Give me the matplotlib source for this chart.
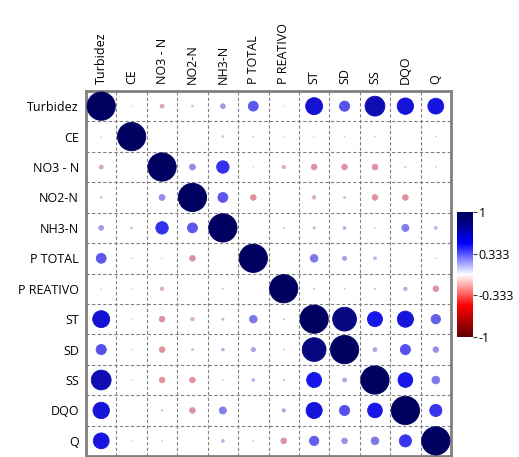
import numpy as np
import matplotlib
matplotlib.use("Agg")
import matplotlib.pyplot as plt
from matplotlib.colors import LinearSegmentedColormap, Normalize

plt.rcParams['font.family'] = ['Open Sans', 'DejaVu Sans']

# variables of the correlation matrix
variables = ["Turbidez", "CE", "NO3 - N", "NO2-N", "NH3-N", "P TOTAL",
             "P REATIVO", "ST", "SD", "SS", "DQO", "Q"]

# correlation coefficients (symmetric)
r_turbidez = [1.00, 0.02, -0.14, 0.06, 0.17, 0.35, 0.02, 0.60, 0.36, 0.70, 0.58, 0.56]
r_ce       = [0.02, 1.00, 0.00, 0.00, 0.06, 0.03, 0.02, 0.02, 0.03, 0.03, 0.00, 0.03]
r_no3      = [-0.14, 0.00, 1.00, 0.21, 0.44, 0.02, -0.12, -0.20, -0.20, -0.20, 0.05, 0.03]
r_no2      = [0.06, 0.00, 0.21, 1.00, 0.35, -0.20, 0.00, -0.12, 0.07, -0.20, -0.20, 0.00]
r_nh3      = [0.17, 0.06, 0.44, 0.35, 1.00, 0.00, 0.04, 0.08, 0.10, 0.03, 0.25, 0.10]
r_ptotal   = [0.35, 0.03, 0.02, -0.20, 0.00, 1.00, 0.00, 0.27, 0.15, 0.10, 0.00, 0.03]
r_preativo = [0.02, 0.02, -0.12, 0.00, 0.04, 0.00, 1.00, 0.05, 0.04, 0.05, 0.12, -0.20]
r_st       = [0.60, 0.02, -0.20, -0.12, 0.08, 0.27, 0.05, 1.00, 0.84, 0.53, 0.57, 0.33]
r_sd       = [0.36, 0.03, -0.20, 0.07, 0.10, 0.15, 0.04, 0.84, 1.00, 0.14, 0.36, 0.20]
r_ss       = [0.70, 0.03, -0.20, -0.20, 0.03, 0.10, 0.05, 0.53, 0.14, 1.00, 0.52, 0.27]
r_dqo      = [0.58, 0.00, 0.05, -0.20, 0.25, 0.00, 0.12, 0.57, 0.36, 0.52, 1.00, 0.43]
r_q        = [0.56, 0.03, 0.03, 0.00, 0.10, 0.03, -0.20, 0.33, 0.20, 0.27, 0.43, 1.00]

corr = np.array([r_turbidez, r_ce, r_no3, r_no2, r_nh3, r_ptotal, r_preativo,
                 r_st, r_sd, r_ss, r_dqo, r_q])
n = len(variables)

cbar_ticks = [1, 0.333, -0.333, -1]

cmap = LinearSegmentedColormap.from_list(
    "rwb", [(0.0, "#600000"), (0.08, "#900000"), (0.25, "#ff0000"), (0.5, "#ffffff"),
            (0.75, "#0000ff"), (0.92, "#000080"), (1.0, "#000060")])
norm = Normalize(vmin=-1, vmax=1)

fig = plt.figure(figsize=(5.19, 4.57), dpi=100)
ax = fig.add_axes([0.1657, 0.002, 0.7033, 0.799])

xs, ys = np.meshgrid(np.arange(n), np.arange(n))
vals = corr.ravel()
xs = xs.ravel()
ys = ys.ravel()
mask = np.abs(vals) > 0.005

# marker diameter proportional to |r| (cell is about 30 px wide)
cell_pt = 0.7033 * 5.19 * 72 / n
sizes = (np.abs(vals[mask]) * 0.93 * cell_pt) ** 2

# slightly greyed colours, like the reference rendering
cols = cmap(norm(vals[mask]))
grey = np.array([0.55, 0.5, 0.65, 1.0])
w = (1 - np.abs(vals[mask]))[:, None] * 0.35
cols = cols * (1 - w) + grey * w

ax.scatter(xs[mask], ys[mask], s=sizes, c=cols,
           edgecolors=cols, linewidths=0.6, zorder=3)

ax.set_xlim(-0.5, n - 0.5)
ax.set_ylim(n - 0.5, -0.5)

# dashed grid between cells
for k in range(1, n):
    ax.axvline(k - 0.5, color="#808080", linestyle=(0, (3, 2)), linewidth=0.8, zorder=1)
    ax.axhline(k - 0.5, color="#808080", linestyle=(0, (3, 2)), linewidth=0.8, zorder=1)

for sp in ax.spines.values():
    sp.set_color("#808080")
    sp.set_linewidth(2)

ax.set_xticks(range(n))
ax.set_yticks(range(n))
ax.set_xticklabels(variables, rotation=90, fontsize=9)
ax.set_yticklabels(variables, fontsize=9)
ax.xaxis.tick_top()
ax.tick_params(length=0, pad=5)

# colour bar
cax = fig.add_axes([0.8805, 0.2626, 0.0308, 0.2735])
sm = plt.cm.ScalarMappable(norm=norm, cmap=cmap)
cb = fig.colorbar(sm, cax=cax, ticks=cbar_ticks)
cb.ax.set_yticklabels(["1", "0.333", "-0.333", "-1"], fontsize=9)
cb.outline.set_visible(False)
cb.ax.tick_params(length=3, width=0.8, color="#404040", pad=1)

fig.savefig("out.png", dpi=100)
